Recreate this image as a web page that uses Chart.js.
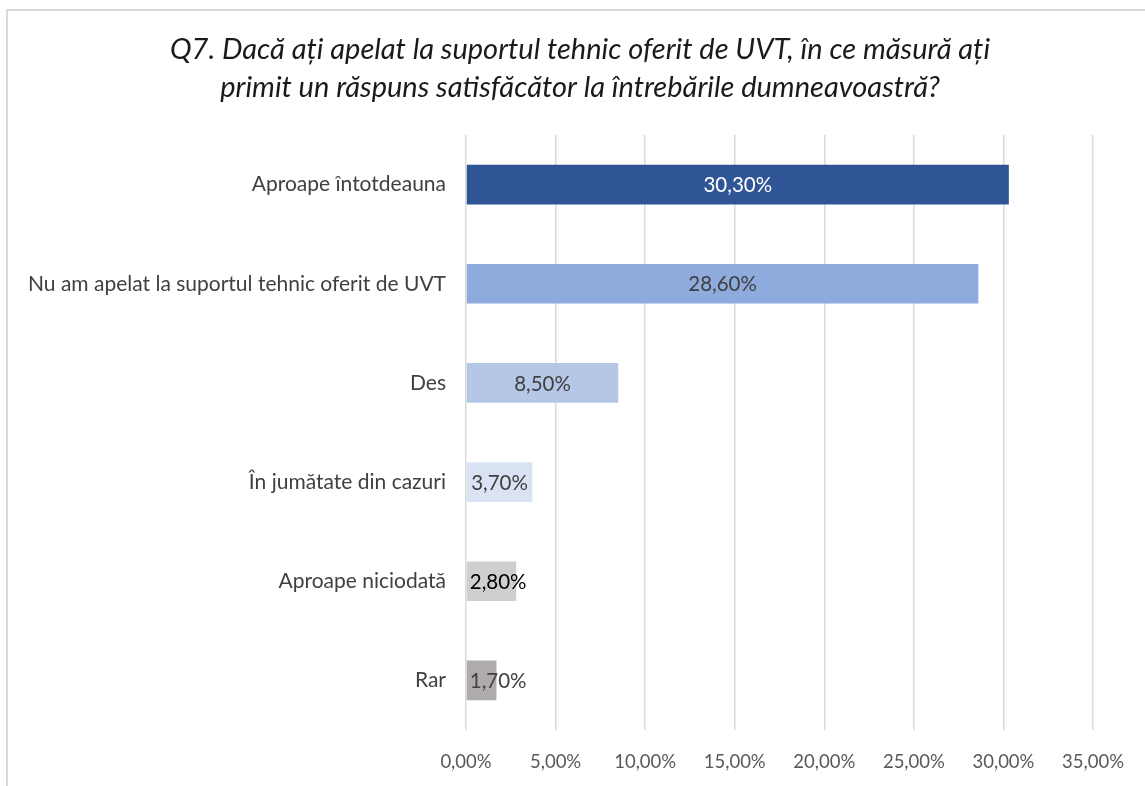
<!DOCTYPE html>
<html>
<head>
<meta charset="utf-8">
<script src="https://cdn.jsdelivr.net/npm/chart.js@4.4.1/dist/chart.umd.min.js"></script>
<style>
  html, body { margin: 0; padding: 0; background: #fff; overflow: hidden; }
  #frame { position: absolute; left: 6px; top: 9px; width: 1200px; height: 900px; border: 2px solid #dadada; }
  #chart { position: absolute; left: 0; top: 0; }
</style>
</head>
<body>
<div id="frame"></div>
<canvas id="chart" width="1145" height="786"></canvas>
<script>
// Chart data
const categories = [
    'Aproape întotdeauna',
    'Nu am apelat la suportul tehnic oferit de UVT',
    'Des',
    'În jumătate din cazuri',
    'Aproape niciodată',
    'Rar'
];
const percentages = [30.3, 28.6, 8.5, 3.7, 2.8, 1.7];
const barColors = ['#2f5597', '#8faadc', '#b4c7e7', '#dae3f3', '#d0cece', '#afabab'];
const labelColors = ['#ffffff', '#404040', '#404040', '#404040', '#000000', '#404040'];
const titleLines = [
    'Q7. Dacă ați apelat la suportul tehnic oferit de UVT, în ce măsură ați',
    'primit un răspuns satisfăcător la întrebările dumneavoastră?'
];

const fontFamily = 'Lato';

function fmtPercent(v) {
    return v.toFixed(2).replace('.', ',') + '%';
}

// Two-line italic title, centred a bit right of the canvas middle like the original
const titlePlugin = {
    id: 'titlePlugin',
    afterDraw(chart) {
        const ctx = chart.ctx;
        ctx.save();
        ctx.font = 'italic 29px ' + fontFamily;
        ctx.fillStyle = '#1a1a1a';
        ctx.textAlign = 'center';
        ctx.textBaseline = 'middle';
        titleLines.forEach((line, i) => {
            ctx.fillText(line, 580, 50 + i * 38);
        });
        ctx.restore();
    }
};

// Value labels drawn in the middle of each bar
const barLabels = {
    id: 'barLabels',
    afterDatasetsDraw(chart) {
        const ctx = chart.ctx;
        const meta = chart.getDatasetMeta(0);
        ctx.save();
        ctx.font = '20.5px ' + fontFamily;
        ctx.textAlign = 'center';
        ctx.textBaseline = 'middle';
        meta.data.forEach((bar, i) => {
            const text = fmtPercent(percentages[i]);
            const w = ctx.measureText(text).width;
            let x = (bar.x + bar.base) / 2;
            x = Math.max(x, bar.base + w / 2 + 3);
            ctx.fillStyle = labelColors[i];
            ctx.fillText(text, x, bar.y + 1);
        });
        ctx.restore();
    }
};

const ctx = document.getElementById('chart').getContext('2d');
const chart = new Chart(ctx, {
    type: 'bar',
    data: {
        labels: categories,
        datasets: [{
            data: percentages,
            backgroundColor: barColors,
            borderWidth: 0,
            barPercentage: 0.8,
            categoryPercentage: 0.5
        }]
    },
    options: {
        indexAxis: 'y',
        responsive: false,
        animation: false,
        layout: { padding: { left: 10, right: 49, top: 135, bottom: 13 } },
        plugins: {
            legend: { display: false },
            tooltip: { enabled: false },
            title: { display: false }
        },
        scales: {
            x: {
                min: 0,
                max: 35,
                ticks: {
                    stepSize: 5,
                    color: '#595959',
                    padding: 21,
                    maxRotation: 0,
                    font: { family: fontFamily, size: 18.5 },
                    callback: (v) => fmtPercent(v)
                },
                grid: { color: '#d9d9d9', lineWidth: 1.5, drawTicks: false },
                border: { display: false },
                afterFit: (scale) => { scale.height = 43; }
            },
            y: {
                ticks: {
                    color: '#404040',
                    padding: 20,
                    font: { family: fontFamily, size: 21 }
                },
                grid: { display: false, drawTicks: false },
                border: { display: false },
                afterFit: (scale) => { scale.width = 456; }
            }
        }
    },
    plugins: [barLabels, titlePlugin]
});
</script>
</body>
</html>
